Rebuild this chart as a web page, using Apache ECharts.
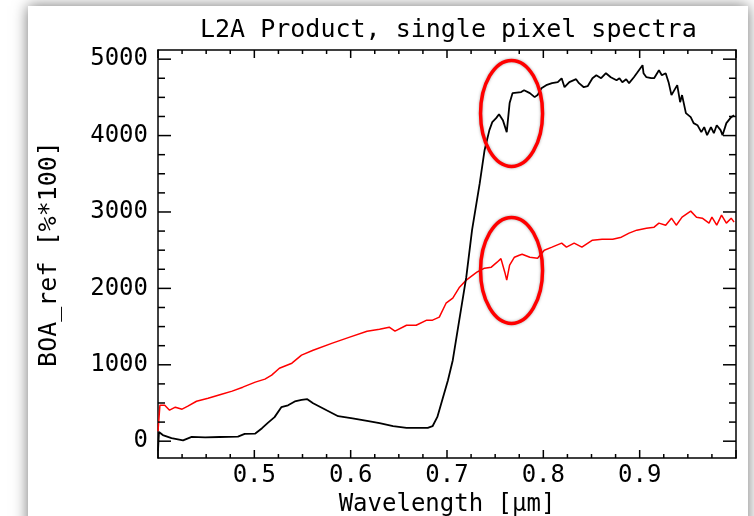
<!DOCTYPE html>
<html><head><meta charset="utf-8">
<script src="https://cdn.jsdelivr.net/npm/echarts@6/dist/echarts.min.js"></script>
<style>
html,body{margin:0;padding:0;background:#fff}
#wrap{position:relative;width:754px;height:516px;overflow:hidden;background:#fff}
#panel{position:absolute;left:28px;top:6px;width:720px;height:530px;background:#fff;box-shadow:0 0 14px rgba(0,0,0,0.55)}
#c{position:absolute;left:0;top:0;width:754px;height:516px}
</style>
</head><body><div id="wrap"><div id="panel"></div><div id="c"></div></div>
<script>
// ---- data ----
const titleText = 'L2A Product, single pixel spectra';
const xName = 'Wavelength [μm]';
const yName = 'BOA_ref [%*100]';

const xLabels = [0.5, 0.6, 0.7, 0.8, 0.9];
const xMajor = [0.4, 0.5, 0.6, 0.7, 0.8, 0.9, 1.0];
const xMinor = [0.425, 0.45, 0.475, 0.525, 0.55, 0.575, 0.625, 0.65, 0.675, 0.725, 0.75, 0.775, 0.825, 0.85, 0.875, 0.925, 0.95, 0.975];
const yLabels = [0, 1000, 2000, 3000, 4000, 5000];
const yMinor = [250, 500, 750, 1250, 1500, 1750, 2250, 2500, 2750, 3250, 3500, 3750, 4250, 4500, 4750];

const blackWl = [0.400, 0.401, 0.405, 0.414, 0.426, 0.435, 0.449, 0.464, 0.483, 0.490, 0.501, 0.508, 0.514, 0.521, 0.528, 0.535, 0.542, 0.549, 0.555, 0.561, 0.575, 0.587, 0.602, 0.617, 0.630, 0.644, 0.658, 0.680, 0.685, 0.690, 0.695, 0.701, 0.706, 0.711, 0.720, 0.726, 0.734, 0.739, 0.744, 0.747, 0.751, 0.754, 0.758, 0.762, 0.765, 0.768, 0.777, 0.780, 0.786, 0.791, 0.794, 0.798, 0.803, 0.809, 0.815, 0.819, 0.822, 0.827, 0.834, 0.837, 0.842, 0.846, 0.851, 0.855, 0.860, 0.865, 0.870, 0.876, 0.879, 0.882, 0.886, 0.889, 0.894, 0.897, 0.903, 0.904, 0.907, 0.912, 0.915, 0.920, 0.923, 0.927, 0.930, 0.933, 0.936, 0.939, 0.942, 0.944, 0.948, 0.953, 0.956, 0.960, 0.964, 0.967, 0.970, 0.974, 0.977, 0.980, 0.984, 0.986, 0.987, 0.990, 0.995, 0.998];
const blackVal = [-120, 120, 80, 40, 10, 56, 50, 55, 60, 95, 100, 170, 240, 315, 445, 470, 520, 540, 550, 497, 405, 327, 300, 266, 235, 196, 174, 174, 196, 318, 537, 798, 1060, 1450, 2147, 2762, 3377, 3809, 4071, 4176, 4228, 4280, 4202, 4045, 4425, 4555, 4570, 4594, 4555, 4503, 4530, 4620, 4660, 4686, 4700, 4750, 4633, 4700, 4738, 4686, 4633, 4646, 4751, 4790, 4751, 4816, 4764, 4725, 4751, 4699, 4738, 4686, 4764, 4816, 4921, 4816, 4764, 4751, 4751, 4856, 4790, 4816, 4699, 4530, 4595, 4660, 4437, 4530, 4294, 4241, 4163, 4136, 4045, 4110, 4005, 4110, 4031, 4136, 4071, 4005, 3980, 4163, 4241, 4267];

const redWl = [0.400, 0.401, 0.402, 0.407, 0.412, 0.418, 0.425, 0.431, 0.440, 0.452, 0.466, 0.477, 0.488, 0.501, 0.511, 0.518, 0.526, 0.539, 0.549, 0.561, 0.581, 0.599, 0.617, 0.630, 0.640, 0.646, 0.658, 0.668, 0.679, 0.685, 0.692, 0.699, 0.706, 0.713, 0.720, 0.731, 0.739, 0.746, 0.752, 0.756, 0.760, 0.762, 0.765, 0.770, 0.775, 0.778, 0.786, 0.794, 0.801, 0.809, 0.819, 0.824, 0.832, 0.840, 0.851, 0.861, 0.872, 0.881, 0.889, 0.897, 0.907, 0.915, 0.920, 0.927, 0.933, 0.938, 0.944, 0.953, 0.959, 0.965, 0.972, 0.975, 0.980, 0.985, 0.990, 0.995, 0.998];
const redVal = [130, 300, 470, 471, 406, 445, 419, 458, 523, 563, 615, 655, 707, 773, 812, 864, 955, 1021, 1126, 1191, 1283, 1362, 1440, 1466, 1492, 1440, 1518, 1518, 1584, 1584, 1623, 1806, 1872, 2016, 2108, 2212, 2265, 2278, 2343, 2390, 2212, 2108, 2304, 2408, 2434, 2447, 2408, 2395, 2500, 2540, 2592, 2540, 2592, 2540, 2631, 2644, 2644, 2670, 2723, 2762, 2788, 2801, 2854, 2827, 2919, 2827, 2932, 3011, 2932, 2919, 2854, 2932, 2827, 2958, 2854, 2919, 2867];

// annotation ellipse centres (data coords)
const marks = [[0.767, 4290], [0.767, 2235]];

// ---- chart ----
const F = 'DejaVu Sans Mono';
const X_MIN = 0.4, X_MAX = 1.0, Y_MIN = -220, Y_MAX = 5120;
const zip = (a, b) => a.map((v, i) => [v, b[i]]);
const ax = {color: '#000', width: 1.5};

const chart = echarts.init(document.getElementById('c'), null, {renderer: 'canvas'});
chart.setOption({
  animation: false,
  backgroundColor: 'transparent',
  title: {text: titleText, left: 195, top: 13, textStyle: {color: '#000', fontFamily: F, fontSize: 25, fontWeight: 'normal'}},
  grid: {left: 158, right: 18, top: 50, bottom: 58, containLabel: false, outerBoundsMode: 'none'},
  xAxis: [{
    type: 'value', position: 'bottom', min: X_MIN, max: X_MAX,
    axisLine: {show: true, onZero: false, lineStyle: ax}, axisTick: {show: false},
    axisLabel: {show: true, customValues: xLabels, margin: 6, color: '#000', fontFamily: F, fontSize: 24,
      formatter: v => Number(v).toFixed(1)},
    splitLine: {show: false},
    name: xName, nameLocation: 'middle', nameGap: 10, nameTextStyle: {color: '#000', fontFamily: F, fontSize: 24}
  }, {
    type: 'value', position: 'top', min: X_MIN, max: X_MAX,
    axisLine: {show: true, onZero: false, lineStyle: ax}, axisTick: {show: false}, axisLabel: {show: false}, splitLine: {show: false}
  }],
  yAxis: [{
    type: 'value', position: 'left', min: Y_MIN, max: Y_MAX,
    axisLine: {show: true, onZero: false, lineStyle: ax}, axisTick: {show: false},
    axisLabel: {show: true, customValues: yLabels, margin: 10, color: '#000', fontFamily: F, fontSize: 24, formatter: v => String(v)},
    splitLine: {show: false},
    name: yName, nameLocation: 'middle', nameGap: 96, nameTextStyle: {color: '#000', fontFamily: F, fontSize: 25}
  }, {
    type: 'value', position: 'right', min: Y_MIN, max: Y_MAX,
    axisLine: {show: true, onZero: false, lineStyle: ax}, axisTick: {show: false}, axisLabel: {show: false}, splitLine: {show: false}
  }],
  series: [
    {type: 'line', name: 'red', data: zip(redWl, redVal), showSymbol: false, lineStyle: {color: '#ff0000', width: 1.5}, z: 3},
    {type: 'line', name: 'black', data: zip(blackWl, blackVal), showSymbol: false, lineStyle: {color: '#000', width: 1.8}, z: 4}
  ]
});

// axis ticks (inside, on all four sides), placed through the chart's own scales
const px = v => chart.convertToPixel({xAxisIndex: 0, yAxisIndex: 0}, v);
const tStyle = {stroke: '#000', lineWidth: 1.5};
const els = [];
function xTick(v, len) {
  const b = px([v, Y_MIN]), t = px([v, Y_MAX]);
  els.push({type: 'line', silent: true, z: 50, shape: {x1: b[0], y1: b[1], x2: b[0], y2: b[1] - len}, style: tStyle});
  els.push({type: 'line', silent: true, z: 50, shape: {x1: t[0], y1: t[1], x2: t[0], y2: t[1] + len}, style: tStyle});
}
function yTick(v, len) {
  const l = px([X_MIN, v]), r = px([X_MAX, v]);
  els.push({type: 'line', silent: true, z: 50, shape: {x1: l[0], y1: l[1], x2: l[0] + len, y2: l[1]}, style: tStyle});
  els.push({type: 'line', silent: true, z: 50, shape: {x1: r[0], y1: r[1], x2: r[0] - len, y2: r[1]}, style: tStyle});
}
xMajor.forEach(v => xTick(v, 8));
xMinor.forEach(v => xTick(v, 4));
yLabels.forEach(v => yTick(v, 13));
yMinor.forEach(v => yTick(v, 7));
marks.forEach(m => {
  const p = px(m);
  els.push({type: 'ellipse', z: 100, silent: true, shape: {cx: p[0], cy: p[1], rx: 31, ry: 53},
    style: {fill: 'none', stroke: '#ff0000', lineWidth: 3.5, shadowBlur: 3, shadowColor: 'rgba(0,0,0,0.35)'}});
});
chart.setOption({graphic: {elements: els}});
</script></body></html>
